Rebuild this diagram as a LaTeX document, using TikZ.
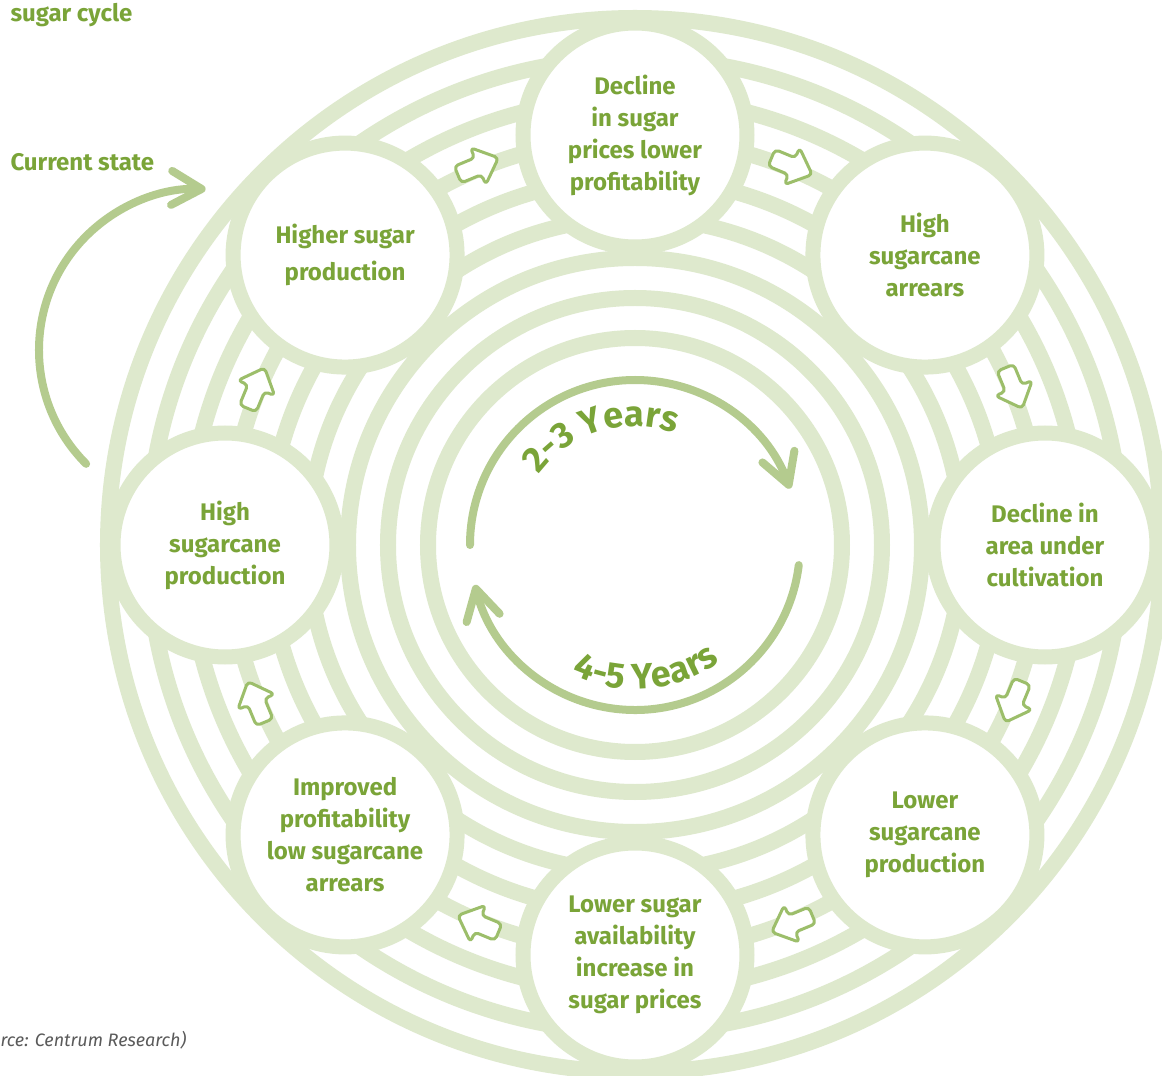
\documentclass[tikz,border=0pt]{standalone}
\usepackage{fontspec}
\setmainfont{Fira Sans}
\usetikzlibrary{arrows.meta,decorations.text}

\definecolor{ringgreen}{RGB}{222,233,205}
\definecolor{txtgreen}{RGB}{122,164,56}
\definecolor{loopgreen}{RGB}{180,203,142}
\definecolor{tipgreen}{RGB}{156,190,106}
\definecolor{srcgray}{RGB}{90,90,90}

\tikzset{
  track/.style={draw=ringgreen, line width=16pt},
  stage/.style={circle, draw=ringgreen, line width=15pt, fill=white,
    minimum size=224pt, inner sep=0pt, align=center, text=txtgreen,
    font=\bfseries\fontsize{24}{32}\selectfont},
  cyclearrow/.style={draw=loopgreen, line width=8pt, line cap=round,
    -{Straight Barb[length=30pt,width=34pt,round]}},
  bandarrow/.style={draw=tipgreen, fill=white, line width=3pt,
    rounded corners=4pt, line join=round},
  years/.style={decorate, decoration={text along path, text align=center,
    text color=txtgreen, text={|\bfseries\fontsize{36}{36}\selectfont|#1}}}
}

\begin{document}
\begin{tikzpicture}[x=1pt, y=1pt]

\useasboundingbox (-635,-531) rectangle (527,545);
\fill[white] (-635,-531) rectangle (527,545);

\coordinate (hub) at (0,0);

% concentric tracks
\foreach \r in {207,247,...,527}
  \draw[track] (hub) circle[radius=\r*1pt];

% the eight stages of the cycle
\node[stage] (sugarprice)   at (90:410pt)   {Decline\\in sugar\\prices lower\\profitability};
\node[stage] (arrears)      at (45:410pt)   {High\\sugarcane\\arrears};
\node[stage] (area)         at (0:410pt)    {Decline in\\area under\\cultivation};
\node[stage] (lowprod)      at (-45:410pt)  {Lower\\sugarcane\\production};
\node[stage] (availability) at (-90:410pt)  {Lower sugar\\availability\\increase in\\sugar prices};
\node[stage] (profit)       at (-135:410pt) {Improved\\profitability\\low sugarcane\\arrears};
\node[stage] (caneprod)     at (180:410pt)  {High\\sugarcane\\production};
\node[stage] (sugarprod)    at (135:410pt)  {Higher sugar\\[5pt]production};

% small arrows between the stages, running clockwise
\foreach \a in {112.5,67.5,22.5,-22.5,-67.5,-112.5,-157.5,157.5}
  \draw[bandarrow, shift={(\a:410pt)}, rotate=\a-90]
    (-22,-9) -- (0,-9) -- (0,-20) -- (22,0) -- (0,20) -- (0,9) -- (-22,9) -- cycle;

% inner loop
\draw[cyclearrow] ([shift={(180:165pt)}]hub) arc[start angle=180, end angle=20, radius=165pt];
\draw[cyclearrow] ([shift={(-7:165pt)}]hub) arc[start angle=-7, end angle=-166, radius=165pt];

\path[years={2-3 Years}] ([shift={(160:119pt)}]hub) arc[start angle=160, end angle=54, radius=119pt];
\path[years={4-5 Years}] ([shift={(218:144pt)}]hub) arc[start angle=218, end angle=332, radius=144pt];

% labels
\node[anchor=west, text=txtgreen, font=\bfseries\fontsize{24}{26}\selectfont] (title) at (-628,530) {sugar cycle};
\node[anchor=west, text=txtgreen, font=\bfseries\fontsize{24}{26}\selectfont] (current) at (-628,383) {Current state};
\node[anchor=west, text=srcgray, font=\itshape\fontsize{18}{20}\selectfont] (source) at (-638,-495) {rce: Centrum Research)};

% current state arrow
\coordinate (start) at (-435,195);
\draw[cyclearrow] ([shift={(225:161pt)}]start) arc[start angle=225, end angle=88, radius=161pt];

\end{tikzpicture}
\end{document}
